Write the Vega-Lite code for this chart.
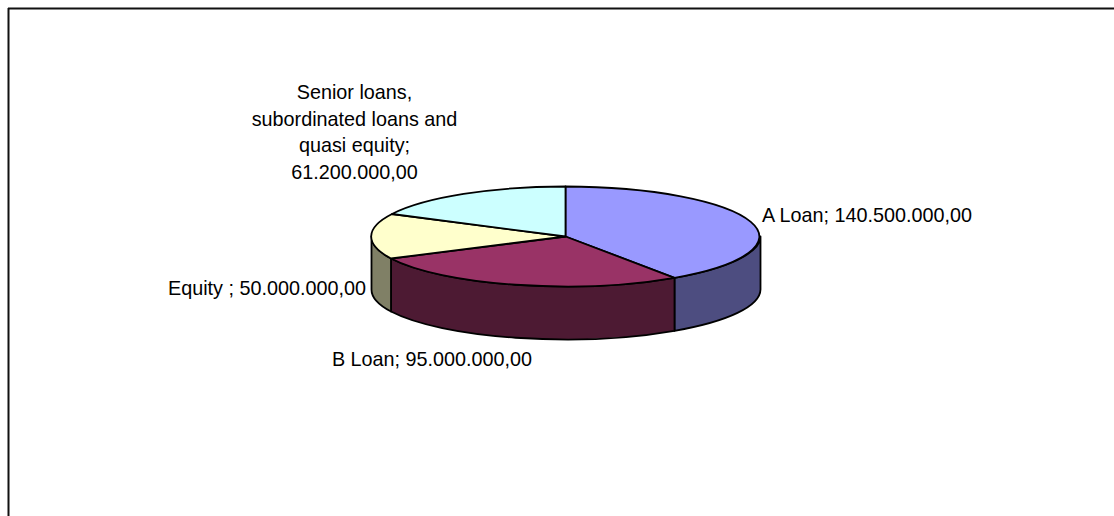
{
"$schema":"https://vega.github.io/schema/vega-lite/v6.json",
"width":1114,"height":516,"padding":0,"autosize":{"type":"none"},
"background":"white",
"config":{"view":{"stroke":null}},
"data":{"values":[
{"slice":"A Loan","amount":140500000,"label":["A Loan; 140.500.000,00"]},
{"slice":"B Loan","amount":95000000,"label":["B Loan; 95.000.000,00"]},
{"slice":"Equity","amount":50000000,"label":["Equity ; 50.000.000,00"]},
{"slice":"Senior loans, subordinated loans and quasi equity","amount":61200000,"label":["Senior loans,","subordinated loans and","quasi equity;","61.200.000,00"]}
]},
"layer":[
{"data":{"values":[{"edge":"top"}]},"mark":{"type":"rule","color":"#111111","strokeWidth":2},
 "encoding":{
 "x":{"datum":0,"type":"quantitative","axis":null,"scale":{"domain":[0,1],"range":[8,1114]}},
 "x2":{"datum":1},
 "y":{"datum":0,"type":"quantitative","axis":null,"scale":{"domain":[0,1],"range":[8.5,516]}}
 }},
{"data":{"values":[{"edge":"left"}]},"mark":{"type":"rule","color":"#111111","strokeWidth":2},
 "encoding":{
 "x":{"datum":0,"type":"quantitative","axis":null,"scale":{"domain":[0,1],"range":[8.5,1114]}},
 "y":{"datum":0,"type":"quantitative","axis":null,"scale":{"domain":[0,1],"range":[8,516]}},
 "y2":{"datum":1}
 }},
{"mark":{"type":"point","filled":true,"opacity":1,"stroke":"black","strokeWidth":1.8,"size":4,"strokeJoin":"round"},
 "transform":[{"filter":"datum.amount!=61200000"}],
 "encoding":{
 "x":{"field":"amount","type":"quantitative","axis":null,"scale":{"domain":[50000000,140500000],"range":[566,566]}},
 "y":{"field":"amount","type":"quantitative","axis":null,"scale":{"domain":[50000000,140500000],"range":[236.5,236.5]}},
 "shape":{"field":"slice","type":"nominal","legend":null,"scale":{"domain":["A Loan","B Loan","Equity"],"range":[
 "M108.5,41.3 A194.5,50 0 0 0 194.5,0 L194.5,53 A194.5,50 0 0 1 108.5,94.3 Z",
 "M108.5,41.3 A194.5,50 0 0 1 -175,22 L-175,75 A194.5,50 0 0 0 108.5,94.3 Z",
 "M-175,22 A194.5,50 0 0 1 -194.5,0 L-194.5,53 A194.5,50 0 0 0 -175,75 Z"]}},
 "fill":{"field":"slice","type":"nominal","legend":null,"scale":{"domain":["A Loan","B Loan","Equity"],"range":["#4d4d80","#4d1a33","#808066"]}}
 }},
{"mark":{"type":"point","filled":true,"opacity":1,"stroke":"black","strokeWidth":1.8,"size":4,"strokeJoin":"round"},
 "encoding":{
 "x":{"field":"amount","type":"quantitative","axis":null,"scale":{"domain":[50000000,140500000],"range":[566,566]}},
 "y":{"field":"amount","type":"quantitative","axis":null,"scale":{"domain":[50000000,140500000],"range":[236.5,236.5]}},
 "shape":{"field":"amount","type":"nominal","legend":null,"scale":{"domain":[140500000,95000000,50000000,61200000],"range":[
 "M-0.5,0 L-0.5,-50 A194.5,50 0 0 1 108.5,41.3 Z",
 "M-0.5,0 L108.5,41.3 A194.5,50 0 0 1 -175,22 Z",
 "M-0.5,0 L-175,22 A194.5,50 0 0 1 -174,-22.5 Z",
 "M-0.5,0 L-174,-22.5 A194.5,50 0 0 1 -0.5,-50 Z"]}},
 "fill":{"field":"amount","type":"nominal","legend":null,"scale":{"domain":[140500000,95000000,50000000,61200000],"range":["#9999ff","#993366","#ffffcc","#ccffff"]}}
 }},
{"mark":{"type":"text","font":"Liberation Sans","fontSize":19.8,"lineHeight":26.7,"align":"center","baseline":"middle","color":"black"},
 "encoding":{
 "text":{"field":"label"},
 "x":{"field":"amount","type":"quantitative","axis":null,"scale":{"domain":[50000000,61200000,95000000,140500000],"range":[267,354.5,432,867]}},
 "y":{"field":"amount","type":"quantitative","axis":null,"scale":{"domain":[50000000,61200000,95000000,140500000],"range":[289,93,360,216]}}
 }}
],
"resolve":{"scale":{"x":"independent","y":"independent","shape":"independent","fill":"independent"}}
}
